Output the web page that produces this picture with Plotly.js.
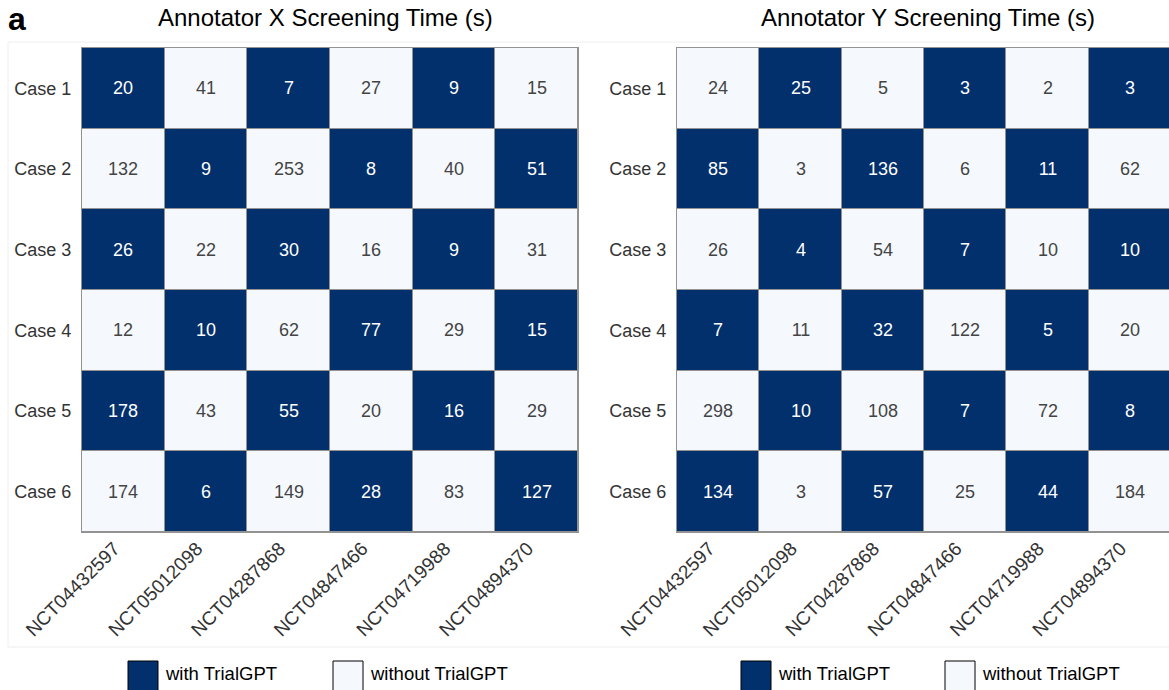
<!DOCTYPE html>
<html>
<head>
<meta charset="utf-8">
<script src="https://cdn.plot.ly/plotly-3.0.1.min.js"></script>
<style>
html,body{margin:0;padding:0;overflow:hidden;background:#fff;}
#chart{width:1172px;height:690px;}
</style>
</head>
<body>
<div id="chart"></div>
<script>
const cases = ['Case 1','Case 2','Case 3','Case 4','Case 5','Case 6'];
const trials = ['NCT04432597','NCT05012098','NCT04287868','NCT04847466','NCT04719988','NCT04894370'];

const timesX = [
  [20, 41, 7, 27, 9, 15],
  [132, 9, 253, 8, 40, 51],
  [26, 22, 30, 16, 9, 31],
  [12, 10, 62, 77, 29, 15],
  [178, 43, 55, 20, 16, 29],
  [174, 6, 149, 28, 83, 127]
];
const withX = [
  [1,0,1,0,1,0],
  [0,1,0,1,0,1],
  [1,0,1,0,1,0],
  [0,1,0,1,0,1],
  [1,0,1,0,1,0],
  [0,1,0,1,0,1]
];

const timesY = [
  [24, 25, 5, 3, 2, 3],
  [85, 3, 136, 6, 11, 62],
  [26, 4, 54, 7, 10, 10],
  [7, 11, 32, 122, 5, 20],
  [298, 10, 108, 7, 72, 8],
  [134, 3, 57, 25, 44, 184]
];
const withY = [
  [0,1,0,1,0,1],
  [1,0,1,0,1,0],
  [0,1,0,1,0,1],
  [1,0,1,0,1,0],
  [0,1,0,1,0,1],
  [1,0,1,0,1,0]
];

const legendLabels = ['with TrialGPT', 'without TrialGPT'];
const panelTitles = ['Annotator X Screening Time (s)', 'Annotator Y Screening Time (s)'];

const DARK = '#02306c', LIGHT = '#f5f9fe';
const FONT = 'Liberation Sans, Arial, Helvetica, sans-serif';
const W = 1172, H = 690;
const px = v => v / W;
const py = v => 1 - v / H;

function hm(z, t, xa, ya) {
  return {
    type: 'heatmap', x: trials, y: cases, z: z, text: t,
    texttemplate: '%{text}', textfont: {family: FONT, size: 18},
    colorscale: [[0, LIGHT], [1, DARK]], zmin: 0, zmax: 1,
    showscale: false, xgap: 1, ygap: 1, hoverinfo: 'skip',
    xaxis: xa, yaxis: ya
  };
}

const axX = (dom, anchor) => ({
  domain: dom, anchor: anchor, type: 'category', tickangle: -45,
  tickfont: {family: FONT, size: 19, color: '#333'},
  ticklabelshift: -9, ticklabelstandoff: -3,
  showline: true, mirror: true, linecolor: '#929292', linewidth: 1,
  ticks: '', showgrid: false, zeroline: false, fixedrange: true
});
const axY = (dom, anchor) => ({
  domain: dom, anchor: anchor, type: 'category', autorange: 'reversed',
  tickfont: {family: FONT, size: 18, color: '#333'}, ticklabelstandoff: 6,
  showline: true, mirror: true, linecolor: '#929292', linewidth: 1,
  ticks: '', showgrid: false, zeroline: false, fixedrange: true
});

const yDom = [py(532), py(48)];

const annotations = [
  {text: '<b>a</b>', x: px(6), y: py(19), xref: 'paper', yref: 'paper', xanchor: 'left', yanchor: 'middle', showarrow: false, font: {family: FONT, size: 32, color: '#000'}},
  {text: panelTitles[0], x: px(325), y: py(18), xref: 'paper', yref: 'paper', xanchor: 'center', yanchor: 'middle', showarrow: false, font: {family: FONT, size: 24, color: '#000'}},
  {text: panelTitles[1], x: px(928), y: py(18), xref: 'paper', yref: 'paper', xanchor: 'center', yanchor: 'middle', showarrow: false, font: {family: FONT, size: 24, color: '#000'}}
];
const shapes = [
  {type: 'rect', xref: 'paper', yref: 'paper', x0: px(8), x1: 1.05, y0: py(647), y1: py(42), line: {color: '#eeeeee', width: 1}, layer: 'below'}
];
const legendPos = [[128, 333], [741, 945]];
legendPos.forEach(pair => {
  pair.forEach((x0, i) => {
    shapes.push({type: 'rect', xref: 'paper', yref: 'paper', x0: px(x0), x1: px(x0 + 30), y0: py(691), y1: py(661),
      fillcolor: i === 0 ? DARK : LIGHT, line: {color: '#000', width: 1}});
    annotations.push({text: legendLabels[i], x: px(x0 + 35), y: py(673), xref: 'paper', yref: 'paper',
      xanchor: 'left', yanchor: 'middle', showarrow: false, font: {family: FONT, size: 18.5, color: '#000'}});
  });
});

const layout = {
  width: W, height: H, margin: {l: 0, r: 0, t: 0, b: 0},
  paper_bgcolor: '#fff', plot_bgcolor: '#929292', showlegend: false,
  font: {family: FONT},
  xaxis: axX([px(82), px(578)], 'y'),
  yaxis: axY(yDom, 'x'),
  xaxis2: axX([px(677), px(1171)], 'y2'),
  yaxis2: axY(yDom, 'x2'),
  annotations: annotations, shapes: shapes
};

Plotly.newPlot('chart', [hm(withX, timesX, 'x', 'y'), hm(withY, timesY, 'x2', 'y2')], layout, {staticPlot: true, displayModeBar: false});
</script>
</body>
</html>
